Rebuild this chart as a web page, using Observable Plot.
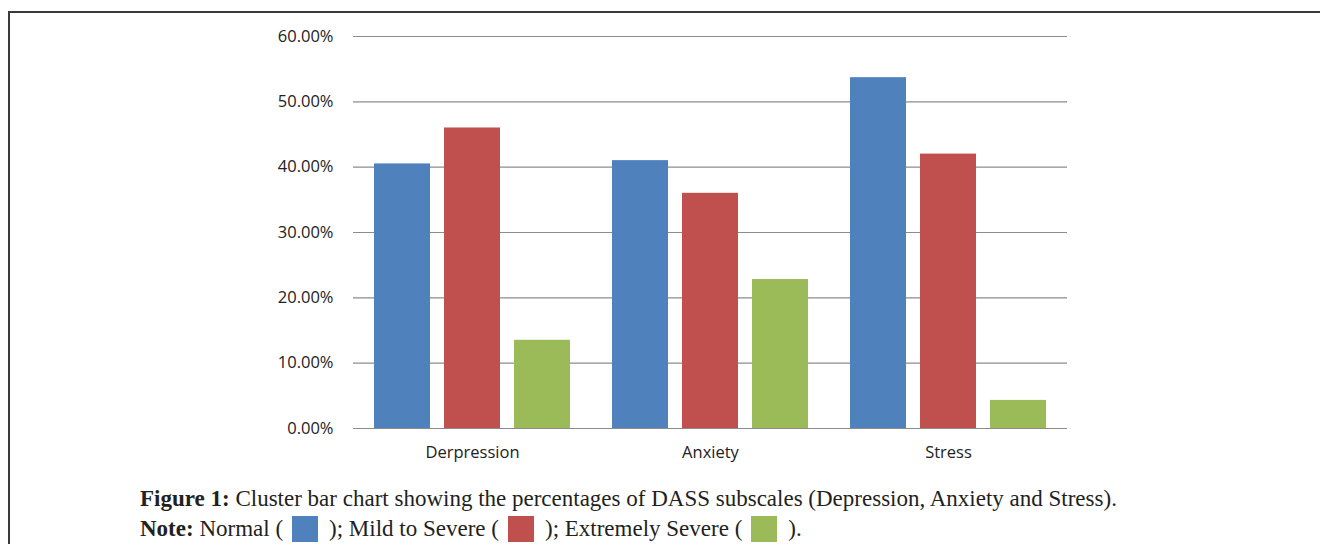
<!DOCTYPE html>
<html>
<head>
<meta charset="utf-8">
<script src="https://cdn.jsdelivr.net/npm/d3@7"></script>
<script src="https://cdn.jsdelivr.net/npm/@observablehq/plot@0.6"></script>
<style>
  html, body { margin: 0; padding: 0; background: #fff; }
  body { width: 1320px; height: 544px; position: relative; overflow: hidden; }
  #frame { position: absolute; left: 8px; top: 11px; right: -2px; bottom: -2px; border-top: 2px solid #3a3a3a; border-left: 2px solid #3a3a3a; }
  #chart { position: absolute; left: 0; top: 0; }
  #caption { position: absolute; left: 140px; top: 484px; font-family: "Liberation Serif", "Times New Roman", serif; font-size: 23px; color: #231f20; line-height: 30px; }
  .sw { display: inline-block; width: 26px; height: 26px; vertical-align: -6px; margin: 0 11px 0 9px; }
</style>
</head>
<body>
<div id="frame"></div>
<div id="chart"></div>
<div id="caption">
  <div><b>Figure 1:</b> Cluster bar chart showing the percentages of DASS subscales (Depression, Anxiety and Stress).</div>
  <div><b>Note:</b> Normal (<span class="sw" style="background:#4F81BD"></span>); Mild to Severe (<span class="sw" style="background:#C0504D"></span>); Extremely Severe (<span class="sw" style="background:#9BBB59"></span>).</div>
</div>
<script>
const categories = ["Derpression", "Anxiety", "Stress"];
const seriesNames = ["Normal", "Mild to Severe", "Extremely Severe"];
const normalValues = [40.5, 41.0, 53.7];
const mildToSevereValues = [46.0, 36.0, 42.0];
const extremelySevereValues = [13.5, 22.8, 4.3];
const yTicks = [0, 10, 20, 30, 40, 50, 60];
const seriesColors = ["#4F81BD", "#C0504D", "#9BBB59"];

const seriesValues = [normalValues, mildToSevereValues, extremelySevereValues];
const data = [];
categories.forEach((c, i) => {
  seriesNames.forEach((s, j) => {
    data.push({ group: c, series: s, value: seriesValues[j][i] });
  });
});

const chart = Plot.plot({
  width: 1320,
  height: 470,
  marginLeft: 352,
  marginRight: 252,
  marginTop: 36,
  marginBottom: 42,
  style: { fontFamily: "'Open Sans', sans-serif", fontSize: "16.5px", color: "#222", background: "transparent" },
  fx: { domain: categories, padding: 0, label: null, tickSize: 0, tickPadding: 18, axis: "bottom" },
  x: { domain: seriesNames, paddingInner: 0.2, paddingOuter: 0.29, axis: null },
  y: { domain: [0, 60], ticks: yTicks, tickFormat: d => d.toFixed(2) + "%", tickSize: 0, tickPadding: 20, label: null },
  color: { domain: seriesNames, range: seriesColors },
  marks: [
    Plot.ruleY(yTicks, { stroke: "#8c8c8c", strokeWidth: 1.2 }),
    Plot.barY(data, { fx: "group", x: "series", y: "value", fill: "series" })
  ]
});
document.getElementById("chart").appendChild(chart);
</script>
</body>
</html>
